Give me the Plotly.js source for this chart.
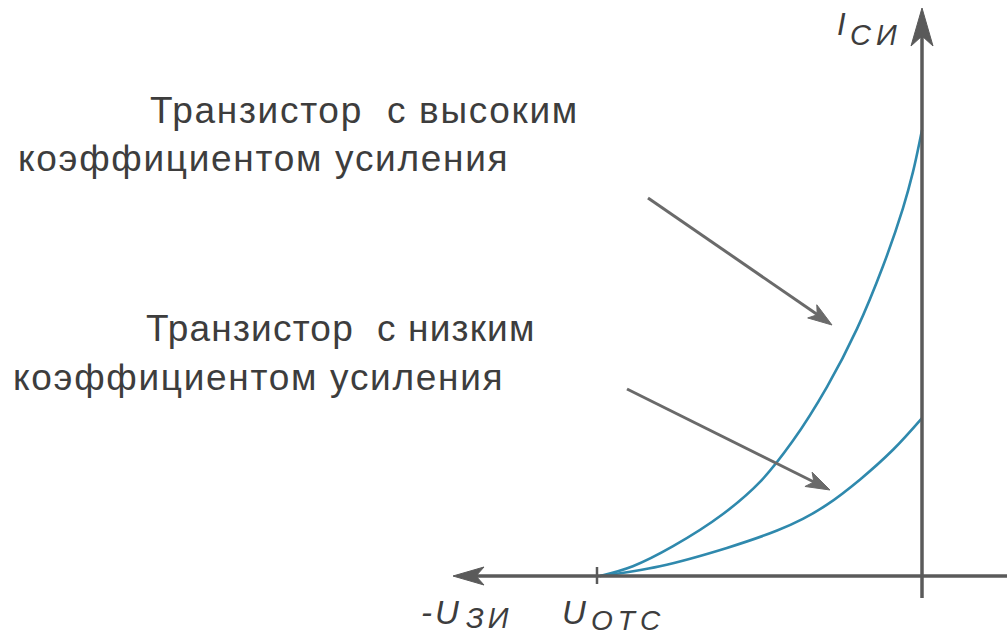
<!DOCTYPE html>
<html>
<head>
<meta charset="utf-8">
<script src="https://cdn.plot.ly/plotly-3.0.1.min.js"></script>
<style>
html,body{margin:0;padding:0;background:#fff;}
#chart{width:1007px;height:636px;}
#chart g.annotation[data-index="0"] text,
#chart g.annotation[data-index="1"] text,
#chart g.annotation[data-index="3"] text{letter-spacing:1.7px;}
#chart g.annotation[data-index="2"] text{letter-spacing:1.2px;}
#chart g.annotation[data-index="5"] text{letter-spacing:5px;}
#chart g.annotation[data-index="6"] text{letter-spacing:3px;}
#chart g.annotation[data-index="7"] text{letter-spacing:4px;}
#chart g.annotation[data-index="9"] text{letter-spacing:5px;}
</style>
</head>
<body>
<div id="chart"></div>
<script>
// ---- data (U normalised to U_отс = -1, I normalised to I_max of high-gain transistor) ----
const uHigh = [-1, -0.898, -0.773, -0.618, -0.503, -0.401, -0.295, -0.202, -0.121, -0.059, -0.028, 0];
const iHigh = [0, 0.022, 0.067, 0.139, 0.211, 0.303, 0.424, 0.554, 0.695, 0.825, 0.906, 1.0];
const uLow  = [-1, -0.814, -0.606, -0.450, -0.370, -0.295, -0.193, -0.090, 0];
const iLow  = [0, 0.022, 0.063, 0.102, 0.128, 0.160, 0.216, 0.283, 0.354];
const uCutoff = -1;
const labelHigh = ["Транзистор  с высоким", "коэффициентом усиления"];
const labelLow  = ["Транзистор  с низким", "коэффициентом усиления"];

// ---- pixel helpers (layout only) ----
const W = 1007, H = 636, OX = 922, OY = 576, SX = 322, SY = 446;
const px2x = p => (p - OX) / SX;
const py2y = p => (OY - p) / SY;

const AXC = '#5a5a5a', TXT = '#3d3d3d', CURVE = '#2f89ad', PTR = '#6a6a6a';
const FONT = 'Liberation Sans, Arial, Helvetica, sans-serif';

function arrowHead(tail, tip, len, half, notch) {
  const dx = tip[0] - tail[0], dy = tip[1] - tail[1];
  const L = Math.hypot(dx, dy), ux = dx / L, uy = dy / L, nx = -uy, ny = ux;
  const b = [tip[0] - ux * len, tip[1] - uy * len];
  const p1 = [b[0] + nx * half, b[1] + ny * half];
  const p2 = [b[0] - nx * half, b[1] - ny * half];
  const n = [tip[0] - ux * (len - notch), tip[1] - uy * (len - notch)];
  const pt = p => px2x(p[0]) + ',' + py2y(p[1]);
  return 'M' + pt(tip) + 'L' + pt(p1) + 'L' + pt(n) + 'L' + pt(p2) + 'Z';
}

const traces = [
  {x: uHigh, y: iHigh, mode: 'lines', line: {color: CURVE, width: 2.6, shape: 'spline', smoothing: 1}, hoverinfo: 'skip'},
  {x: uLow, y: iLow, mode: 'lines', line: {color: CURVE, width: 2.6, shape: 'spline', smoothing: 1}, hoverinfo: 'skip'}
];

const shapes = [
  // horizontal axis
  {type: 'line', xref: 'x', yref: 'y', x0: px2x(476), x1: px2x(W), y0: 0, y1: 0, line: {color: AXC, width: 3.5}},
  {type: 'path', xref: 'x', yref: 'y', path: arrowHead([W, OY], [453, OY], 31, 9, 8), fillcolor: AXC, line: {color: AXC, width: 1}},
  // vertical axis
  {type: 'line', xref: 'x', yref: 'y', x0: 0, x1: 0, y0: py2y(598), y1: py2y(36), line: {color: AXC, width: 3.5}},
  {type: 'path', xref: 'x', yref: 'y', path: arrowHead([OX, 598], [OX, 8], 38, 11, 10), fillcolor: AXC, line: {color: AXC, width: 1}},
  // cutoff tick
  {type: 'line', xref: 'x', yref: 'y', x0: uCutoff - 3 / SX, x1: uCutoff - 3 / SX, y0: py2y(567), y1: py2y(584), line: {color: AXC, width: 2.5}},
  // pointer arrows
  {type: 'line', xref: 'x', yref: 'y', x0: px2x(648), y0: py2y(198), x1: px2x(818), y1: py2y(315), line: {color: PTR, width: 3}},
  {type: 'path', xref: 'x', yref: 'y', path: arrowHead([648, 198], [832, 325], 24, 8, 6), fillcolor: PTR, line: {color: PTR, width: 1}},
  {type: 'line', xref: 'x', yref: 'y', x0: px2x(627), y0: py2y(389), x1: px2x(814), y1: py2y(482), line: {color: PTR, width: 3}},
  {type: 'path', xref: 'x', yref: 'y', path: arrowHead([627, 389], [830, 490], 24, 8, 6), fillcolor: PTR, line: {color: PTR, width: 1}}
];

function txt(text, xp, yp, size, italic) {
  return {text: italic ? '<i>' + text + '</i>' : text, xref: 'x', yref: 'y', x: px2x(xp), y: py2y(yp),
          xanchor: 'left', yanchor: 'middle', align: 'left', showarrow: false, borderpad: 0,
          font: {family: FONT, size: size, color: TXT}};
}

const annotations = [
  txt(labelHigh[0], 149, 110, 37),
  txt(labelHigh[1], 17, 158, 37),
  txt(labelLow[0], 145, 328, 37),
  txt(labelLow[1], 12, 377, 37),
  txt('I', 836, 24, 31, true),
  txt('СИ', 849, 35, 29, true),
  txt('-U', 420, 612, 33, true),
  txt('ЗИ', 465, 618, 29, true),
  txt('U', 561, 612, 33, true),
  txt('ОТС', 590, 620, 28, true)
];

const layout = {
  width: W, height: H, margin: {l: 0, r: 0, t: 0, b: 0},
  paper_bgcolor: '#fff', plot_bgcolor: '#fff', showlegend: false,
  xaxis: {range: [px2x(0), px2x(W)], visible: false, fixedrange: true},
  yaxis: {range: [py2y(H), py2y(0)], visible: false, fixedrange: true},
  shapes: shapes, annotations: annotations
};

Plotly.newPlot('chart', traces, layout, {displayModeBar: false, staticPlot: true});
</script>
</body>
</html>
